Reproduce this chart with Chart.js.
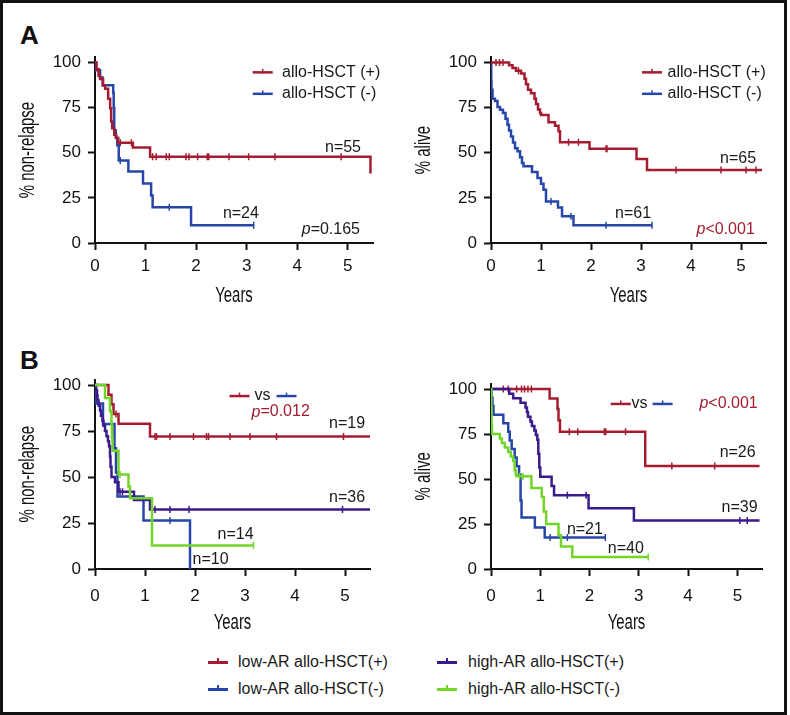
<!DOCTYPE html>
<html>
<head>
<meta charset="utf-8">
<script src="https://cdn.jsdelivr.net/npm/chart.js@4.4.0/dist/chart.umd.min.js"></script>
<style>
  body { margin: 0; background: #fff; font-family: "Liberation Sans", Arial, sans-serif; color: #1a1a1a; }
  #frame { position: absolute; left: 0; top: 0; width: 787px; height: 715px; box-sizing: border-box; border: 3px solid #111; }
  canvas { position: absolute; }
  .tag { position: absolute; font: bold 26px/26px "Liberation Sans", Arial, sans-serif; color: #111; }
  .key { position: absolute; font-size: 16px; line-height: 20px; white-space: nowrap; }
  .ln { position: absolute; width: 20px; height: 2.5px; }
  .ln b { position: absolute; left: 9px; top: -3px; width: 1.5px; height: 6px; background: inherit; }
</style>
</head>
<body>
<div id="frame"></div>
<div class="tag" style="left:20px; top:22px">A</div>
<div class="tag" style="left:20px; top:347px">B</div>

<canvas id="aLeft" width="390" height="270" style="left:0; top:40px"></canvas>
<canvas id="aRight" width="390" height="270" style="left:396px; top:40px"></canvas>
<canvas id="bLeft" width="390" height="280" style="left:0; top:360px"></canvas>
<canvas id="bRight" width="390" height="280" style="left:396px; top:360px"></canvas>

<div class="ln" style="left:208px; top:661px; background:#a51c30"><b></b></div>
<div class="key" style="left:238px; top:652px">low-AR allo-HSCT(+)</div>
<div class="ln" style="left:208px; top:688px; background:#2846a8"><b></b></div>
<div class="key" style="left:238px; top:679px">low-AR allo-HSCT(-)</div>
<div class="ln" style="left:437px; top:661px; background:#3a1a8c"><b></b></div>
<div class="key" style="left:468px; top:652px">high-AR allo-HSCT(+)</div>
<div class="ln" style="left:437px; top:688px; background:#72d62a"><b></b></div>
<div class="key" style="left:468px; top:679px">high-AR allo-HSCT(-)</div>

<script>
// ===============================
// Data
// ===============================
const yearTicks = [0, 1, 2, 3, 4, 5];
const pctTicks = [0, 25, 50, 75, 100];

// A, non-relapse, allo-HSCT (+)
const nrPosT = [0, 0.03, 0.07, 0.1, 0.16, 0.2, 0.26, 0.3, 0.32, 0.34, 0.38, 0.42, 0.46, 0.75, 1.09, 5.45];
const nrPosS = [100, 96.4, 92.7, 90.9, 87.3, 85.5, 80, 74.5, 67.3, 63.6, 60, 58.2, 55.6, 53, 47.8, 38.5];
const nrPosC = [0.5, 0.72, 1.14, 1.21, 1.41, 1.47, 1.8, 1.86, 2.03, 2.22, 2.25, 2.65, 3.04, 3.56, 4.87];
// A, non-relapse, allo-HSCT (-)
const nrNegT = [0, 0.02, 0.1, 0.15, 0.36, 0.37, 0.38, 0.41, 0.44, 0.47, 0.66, 0.95, 1.11, 1.14, 1.9, 3.14];
const nrNegS = [100, 95.8, 91.7, 87.5, 83.3, 75, 62.5, 58.3, 54.2, 45.8, 39.6, 33, 26.4, 19.8, 9.9, 9.9];
const nrNegC = [0.5, 1.47, 3.14];

// A, alive, allo-HSCT (+)
const osPosT = [0, 0.36, 0.43, 0.5, 0.6, 0.67, 0.7, 0.74, 0.8, 0.87, 0.9, 0.94, 0.98, 1.0, 1.15, 1.28, 1.35, 1.38, 1.97, 2.91, 3.12, 5.42];
const osPosS = [100, 98.5, 97, 95.5, 94, 91, 88, 85, 83, 80, 77, 74, 72, 71, 67, 65, 62, 55.9, 52.3, 46.5, 40.4, 40.4];
const osPosC = [0.1, 0.17, 0.24, 0.55, 1.55, 1.75, 2.3, 2.32, 3.7, 4.6, 5.1, 5.3];
// A, alive, allo-HSCT (-)
const osNegT = [0, 0.005, 0.01, 0.03, 0.08, 0.13, 0.18, 0.24, 0.29, 0.33, 0.36, 0.4, 0.44, 0.48, 0.53, 0.58, 0.62, 0.65, 0.82, 0.93, 1.0, 1.05, 1.1, 1.34, 1.42, 1.65, 3.22];
const osNegS = [100, 90, 85, 80, 78.7, 75.4, 73.8, 72.1, 68.9, 65.6, 62.3, 59, 55.7, 52.5, 50.8, 47.5, 44.3, 42.6, 39.3, 36, 32.8, 29.5, 23, 19.7, 14.8, 9.8, 9.8];
const osNegC = [1.2, 1.6, 2.3, 3.22];

// B, non-relapse
const nrLowPosT = [0, 0.27, 0.33, 0.37, 0.47, 1.1, 5.5];
const nrLowPosS = [100, 94.7, 89.5, 84.2, 78.9, 72, 72];
const nrLowPosC = [0.42, 1.2, 1.23, 1.5, 1.97, 2.23, 2.27, 2.7, 3.1, 3.63, 4.97];
const nrHighPosT = [0, 0.02, 0.04, 0.05, 0.07, 0.1, 0.12, 0.15, 0.17, 0.2, 0.23, 0.26, 0.28, 0.3, 0.31, 0.33, 0.4, 0.47, 0.78, 1.1, 5.5];
const nrHighPosS = [100, 97.2, 94.4, 91.7, 88.9, 86.1, 83.3, 80.6, 77.8, 75, 72.2, 69.4, 66.7, 61.1, 55.6, 50, 47.2, 42, 37.5, 32.3, 32.3];
const nrHighPosC = [0.5, 0.55, 0.7, 1.2, 1.5, 1.88, 4.95];
const nrHighNegT = [0, 0.2, 0.3, 0.33, 0.34, 0.35, 0.47, 0.67, 0.7, 1.14, 3.17];
const nrHighNegS = [100, 92.9, 85.7, 78.6, 71.4, 64.3, 51.4, 44.9, 38.5, 12.8, 12.8];
const nrHighNegC = [0.5, 3.17];
const nrLowNegT = [0, 0.02, 0.16, 0.39, 0.42, 0.45, 0.97, 1.9];
const nrLowNegS = [100, 90, 78.8, 65.6, 52.5, 39.4, 26.3, 0];
const nrLowNegC = [1.5];

// B, alive
const osLowPosT = [0, 1.19, 1.35, 1.37, 1.4, 3.13, 5.45];
const osLowPosS = [100, 94.7, 88.9, 82.6, 76.3, 57.2, 57.2];
const osLowPosC = [0.25, 0.35, 0.52, 0.62, 0.68, 0.75, 0.82, 1.59, 1.76, 2.3, 2.33, 2.73, 3.67, 4.54];
const osHighPosT = [0, 0.37, 0.45, 0.6, 0.7, 0.73, 0.75, 0.8, 0.83, 0.88, 0.91, 0.94, 0.96, 0.98, 1.0, 1.23, 1.28, 1.98, 2.9, 5.45];
const osHighPosS = [100, 97.4, 94.9, 92.3, 89.7, 87.2, 84.6, 82, 79.5, 76.9, 74.4, 71.8, 64, 56.4, 51.3, 46.1, 41, 33.7, 26.9, 26.9];
const osHighPosC = [1.55, 1.93, 5.05, 5.2];
const osHighNegT = [0, 0.005, 0.01, 0.02, 0.18, 0.22, 0.28, 0.35, 0.4, 0.45, 0.48, 0.5, 0.52, 0.82, 1.03, 1.07, 1.12, 1.37, 1.42, 1.65, 3.19];
const osHighNegS = [100, 90, 80, 75, 72.5, 70, 67.5, 65, 62.5, 60, 55, 52.5, 51.5, 45, 40, 32, 25, 18.8, 12.5, 6.7, 6.7];
const osHighNegC = [0.58, 0.65, 3.19];
const osLowNegT = [0, 0.01, 0.03, 0.05, 0.25, 0.35, 0.38, 0.42, 0.48, 0.52, 0.57, 0.6, 0.62, 0.89, 1.09, 2.32];
const osLowNegS = [100, 95.2, 90.5, 85.7, 81, 76.2, 71.4, 66.7, 61.9, 57.1, 52.4, 38.1, 28.6, 23.1, 17.5, 17.5];
const osLowNegC = [1.2, 1.55, 2.32];

// ===============================
// Helpers
// ===============================
const RED = '#a51c30', BLUE = '#2846a8', PURPLE = '#3a1a8c', GREEN = '#72d62a';
const FONT = '"Liberation Sans", Arial, sans-serif';

function km(t, s, c, color) {
  const stepAt = tc => { let v = s[0]; t.forEach((ti, i) => { if (ti <= tc) v = s[i]; }); return v; };
  return [
    { data: t.map((ti, i) => ({ x: ti, y: s[i] })), borderColor: color, borderWidth: 2.5,
      stepped: true, pointRadius: 0, fill: false },
    { data: c.map(tc => ({ x: tc, y: stepAt(tc) })), showLine: false, pointStyle: 'line',
      rotation: 90, pointRadius: 3.5, borderColor: color, borderWidth: 1.5 }
  ];
}

// text, n= labels and small keys inside the plot, placed in data units
function notes(items) {
  return {
    id: 'notes',
    afterDatasetsDraw(chart) {
      const { ctx, scales: { x, y } } = chart;
      ctx.save();
      items.forEach(it => {
        let px = x.getPixelForValue(it.x);
        const py = y.getPixelForValue(it.y);
        if (it.key) {
          ctx.strokeStyle = it.key; ctx.lineWidth = 2.5;
          ctx.beginPath(); ctx.moveTo(px, py); ctx.lineTo(px + 20, py); ctx.stroke();
          ctx.lineWidth = 1.5;
          ctx.beginPath(); ctx.moveTo(px + 10, py - 3.5); ctx.lineTo(px + 10, py + 1); ctx.stroke();
          return;
        }
        ctx.fillStyle = it.color || '#1a1a1a';
        ctx.textBaseline = 'middle';
        ctx.textAlign = 'left';
        if (it.it) {
          ctx.font = 'italic 16px ' + FONT;
          ctx.fillText(it.it, px, py);
          px += ctx.measureText(it.it).width;
        }
        ctx.font = '16px ' + FONT;
        ctx.fillText(it.text, px, py);
      });
      ctx.restore();
    }
  };
}

// condensed axis titles (no narrow font installed, so squeeze it)
function titles(yTitle, xOff) {
  return {
    id: 'titles',
    afterDraw(chart) {
      const { ctx, chartArea: a } = chart;
      ctx.save();
      ctx.fillStyle = '#111';
      ctx.font = '22px ' + FONT;
      ctx.textAlign = 'center';
      ctx.textBaseline = 'middle';
      ctx.save();
      ctx.translate((a.left + a.right) / 2, a.bottom + xOff);
      ctx.scale(0.68, 1);
      ctx.fillText('Years', 0, 0);
      ctx.restore();
      ctx.translate(28, (a.top + a.bottom) / 2);
      ctx.rotate(-Math.PI / 2);
      ctx.scale(0.68, 1);
      ctx.fillText(yTitle, 0, 0);
      ctx.restore();
    }
  };
}

function axis(ticks, extra) {
  return Object.assign({
    type: 'linear',
    afterBuildTicks: s => { s.ticks = ticks.map(v => ({ value: v })); },
    grid: { drawOnChartArea: false, drawTicks: true, tickLength: 7, tickWidth: 2, tickColor: '#111' },
    border: { display: true, color: '#111', width: 2 },
  }, extra);
}

function panel(id, sets, cfg) {
  new Chart(document.getElementById(id), {
    type: 'line',
    data: { datasets: sets },
    options: {
      responsive: false,
      animation: false,
      layout: { padding: { left: 16, right: cfg.padR, top: cfg.padT, bottom: cfg.padB } },
      plugins: { legend: { display: false }, tooltip: { enabled: false } },
      scales: {
        x: axis(yearTicks, {
          min: 0, max: 5.5,
          afterFit: s => { s.height = 65; },
          ticks: { color: '#111', font: { size: 17, family: FONT }, padding: cfg.xPad, maxRotation: 0 }
        }),
        y: axis(pctTicks, {
          min: 0, max: 103,
          afterFit: s => { s.width = 79; },
          ticks: { color: '#111', font: { size: 17, family: FONT }, padding: 7 }
        })
      }
    },
    plugins: [notes(cfg.notes), titles(cfg.yTitle, cfg.titleOff)]
  });
}

// ===============================
// Panels
// ===============================
panel('aLeft', [...km(nrPosT, nrPosS, nrPosC, RED), ...km(nrNegT, nrNegS, nrNegC, BLUE)], {
  padR: 17, padT: 12.4, padB: 2, xPad: 6, titleOff: 53, yTitle: '% non-relapse',
  notes: [
    { x: 3.12, y: 94.6, key: RED }, { x: 3.7, y: 94.6, text: 'allo-HSCT (+)' },
    { x: 3.12, y: 82.7, key: BLUE }, { x: 3.7, y: 82.7, text: 'allo-HSCT (-)' },
    { x: 4.55, y: 53, text: 'n=55' },
    { x: 2.53, y: 16.2, text: 'n=24' },
    { x: 4.09, y: 7.6, it: 'p', text: '=0.165' }
  ]
});

panel('aRight', [...km(osPosT, osPosS, osPosC, RED), ...km(osNegT, osNegS, osNegC, BLUE)], {
  padR: 20, padT: 12.4, padB: 2, xPad: 6, titleOff: 53, yTitle: '% alive',
  notes: [
    { x: 3.02, y: 94.6, key: RED }, { x: 3.53, y: 94.6, text: 'allo-HSCT (+)' },
    { x: 3.02, y: 82.7, key: BLUE }, { x: 3.53, y: 82.7, text: 'allo-HSCT (-)' },
    { x: 4.58, y: 47, text: 'n=65' },
    { x: 2.48, y: 16.2, text: 'n=61' },
    { x: 4.11, y: 7.6, it: 'p', text: '<0.001', color: RED }
  ]
});

panel('bLeft', [
  ...km(nrHighNegT, nrHighNegS, nrHighNegC, GREEN),
  ...km(nrHighPosT, nrHighPosS, nrHighPosC, PURPLE),
  ...km(nrLowNegT, nrLowNegS, nrLowNegC, BLUE),
  ...km(nrLowPosT, nrLowPosS, nrLowPosC, RED)
], {
  padR: 20, padT: 19.5, padB: 6, xPad: 10, titleOff: 54, yTitle: '% non-relapse',
  notes: [
    { x: 2.69, y: 94, key: RED }, { x: 3.19, y: 94, text: 'vs' }, { x: 3.63, y: 94, key: BLUE },
    { x: 3.13, y: 85.3, it: 'p', text: '=0.012', color: RED },
    { x: 4.68, y: 78.8, text: 'n=19' },
    { x: 4.68, y: 38.6, text: 'n=36' },
    { x: 2.45, y: 18.5, text: 'n=14' },
    { x: 1.95, y: 4.9, text: 'n=10' }
  ]
});

panel('bRight', [
  ...km(osHighNegT, osHighNegS, osHighNegC, GREEN),
  ...km(osLowNegT, osLowNegS, osLowNegC, BLUE),
  ...km(osHighPosT, osHighPosS, osHighPosC, PURPLE),
  ...km(osLowPosT, osLowPosS, osLowPosC, RED)
], {
  padR: 24, padT: 23.6, padB: 6, xPad: 10, titleOff: 54, yTitle: '% alive',
  notes: [
    { x: 2.43, y: 91.7, key: RED }, { x: 2.85, y: 91.7, text: 'vs' }, { x: 3.28, y: 91.7, key: BLUE },
    { x: 4.23, y: 91.7, it: 'p', text: '<0.001', color: RED },
    { x: 4.64, y: 64.4, text: 'n=26' },
    { x: 4.68, y: 33.9, text: 'n=39' },
    { x: 1.54, y: 21.7, text: 'n=21' },
    { x: 2.37, y: 11.1, text: 'n=40' }
  ]
});
</script>
</body>
</html>
